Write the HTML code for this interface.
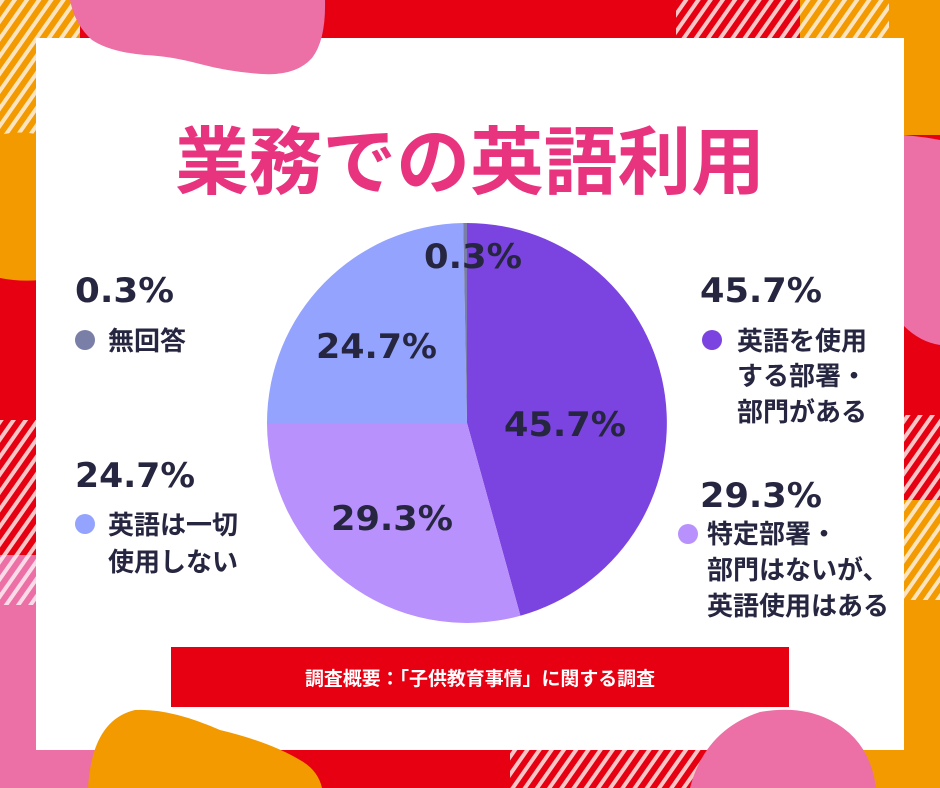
<!DOCTYPE html>
<html><head><meta charset="utf-8"><style>
html,body{margin:0;padding:0;width:940px;height:788px;overflow:hidden;font-family:"Liberation Sans","Noto Sans CJK JP",sans-serif}
</style></head><body>
<svg width="940" height="788" viewBox="0 0 940 788" xmlns="http://www.w3.org/2000/svg">
<defs>
<pattern id="so" width="10" height="10" patternUnits="userSpaceOnUse" patternTransform="rotate(35)"><rect width="10" height="10" fill="#f29a00"/><rect width="4" height="10" fill="#fde4bf"/></pattern>
<pattern id="sr" width="10" height="10" patternUnits="userSpaceOnUse" patternTransform="rotate(35)"><rect width="10" height="10" fill="#e60012"/><rect width="4" height="10" fill="#f8c6c6"/></pattern>
<pattern id="sp" width="10" height="10" patternUnits="userSpaceOnUse" patternTransform="rotate(35)"><rect width="10" height="10" fill="#ec6fa5"/><rect width="4" height="10" fill="#fbdbe8"/></pattern>
</defs>
<rect width="940" height="788" fill="#e60012"/>
<rect x="0" y="0" width="80" height="135" fill="url(#so)"/>
<rect x="676" y="0" width="124" height="40" fill="url(#sr)"/>
<rect x="800" y="0" width="90" height="40" fill="url(#so)"/>
<rect x="889" y="0" width="51" height="135" fill="#f29a00"/>
<path d="M0 135 Q20 130 40 135 L40 280 Q20 282 0 278Z" fill="#f29a00"/>
<rect x="0" y="420" width="40" height="135" fill="url(#sr)"/>
<rect x="0" y="555" width="40" height="50" fill="url(#sp)"/>
<rect x="0" y="605" width="40" height="183" fill="#ec6fa5"/>
<path d="M904 135 Q925 137 940 140 L940 345 Q920 342 904 326Z" fill="#ec6fa5"/>
<rect x="904" y="415" width="36" height="85" fill="url(#sr)"/>
<rect x="904" y="500" width="36" height="102" fill="url(#so)"/>
<rect x="904" y="600" width="36" height="188" fill="#f29a00"/>
<rect x="0" y="750" width="120" height="38" fill="#ec6fa5"/>
<rect x="510" y="750" width="200" height="38" fill="url(#sr)"/>
<rect x="850" y="750" width="90" height="38" fill="#f29a00"/>
<rect x="36" y="38" width="868" height="712" fill="#fff"/>
<path d="M70 0 L325 0 Q326 40 312 58 Q296 76 262 74 Q230 72 200 64 Q170 56 145 55 Q110 52 92 40 Q75 25 70 0 Z" fill="#ec6fa5"/>
<path d="M88 788 Q92 720 135 710 Q170 708 220 730 Q270 742 300 760 Q318 770 322 788Z" fill="#f29a00"/>
<path d="M690 788 Q705 730 760 712 Q800 705 830 720 Q870 740 876 788Z" fill="#ec6fa5"/>
<text x="175" y="188" textLength="590" lengthAdjust="spacingAndGlyphs" font-size="74" font-weight="700" fill="#e8337f" font-family="'Noto Sans CJK JP',sans-serif">業務での英語利用</text>
<g transform="translate(467,423)">
<path d="M0 0 L0 -200 A200 200 0 0 1 53.4 192.7Z" fill="#7b43e0"/>
<path d="M0 0 L53.4 192.7 A200 200 0 0 1 -200 0Z" fill="#b991fc"/>
<path d="M0 0 L-200 0 A200 200 0 0 1 -3.8 -200Z" fill="#93a3fe"/>
<path d="M0 0 L-3.8 -200 A200 200 0 0 1 0 -200Z" fill="#7a7fa8"/>
</g>
<g font-family="'DejaVu Sans','Liberation Sans',sans-serif" font-weight="700" fill="#262640" font-size="34">
<text x="424" y="268" textLength="98" lengthAdjust="spacingAndGlyphs">0.3%</text>
<text x="316" y="358" textLength="121" lengthAdjust="spacingAndGlyphs">24.7%</text>
<text x="504" y="436" textLength="122" lengthAdjust="spacingAndGlyphs">45.7%</text>
<text x="331" y="530" textLength="122" lengthAdjust="spacingAndGlyphs">29.3%</text>
<text x="75" y="302" textLength="99" lengthAdjust="spacingAndGlyphs">0.3%</text>
<text x="75" y="487" textLength="120" lengthAdjust="spacingAndGlyphs">24.7%</text>
<text x="700" y="302" textLength="122" lengthAdjust="spacingAndGlyphs">45.7%</text>
<text x="700" y="507" textLength="122" lengthAdjust="spacingAndGlyphs">29.3%</text>
</g>
<g font-family="'Noto Sans CJK JP',sans-serif" font-weight="700" fill="#262640" font-size="26">
<circle cx="85" cy="340" r="10" fill="#7a7fa8"/>
<text x="108" y="350">無回答</text>
<circle cx="85" cy="524" r="10" fill="#93a3fe"/>
<text x="108" y="534">英語は一切</text>
<text x="108" y="571">使用しない</text>
<circle cx="712" cy="340" r="10" fill="#7b43e0"/>
<text x="737" y="350">英語を使用</text>
<text x="737" y="385">する部署・</text>
<text x="737" y="421">部門がある</text>
<circle cx="688" cy="534" r="10" fill="#b991fc"/>
<text x="707" y="543">特定部署・</text>
<text x="707" y="579">部門はないが、</text>
<text x="707" y="615">英語使用はある</text>
</g>
<rect x="171" y="647" width="618" height="60" fill="#e60012"/>
<text x="305" y="685" textLength="350" lengthAdjust="spacingAndGlyphs" font-size="19" font-weight="700" fill="#fff" font-family="'Noto Sans CJK JP',sans-serif">調査概要：「子供教育事情」に関する調査</text>
</svg>
</body></html>
